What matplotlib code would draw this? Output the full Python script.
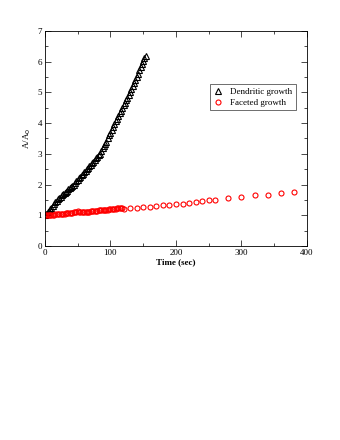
import matplotlib
matplotlib.use("Agg")
import matplotlib.pyplot as plt
from matplotlib.ticker import MultipleLocator

dend_t = [0, 2, 4, 6, 8, 10, 12, 14, 16, 18, 20, 22, 24, 26, 28, 30, 32, 34, 36, 38,
          40, 42, 44, 46, 48, 50, 52, 54, 56, 58, 60, 62, 64, 66, 68, 70, 72, 74, 76, 78,
          80, 82, 84, 86, 88, 90, 92, 94, 96, 98, 100, 102, 104, 106, 108, 110, 112, 114,
          116, 118, 120, 122, 124, 126, 128, 130, 132, 134, 136, 138, 140, 142, 144, 146,
          148, 150, 152, 154]
dend_y = [1.00, 1.05, 1.09, 1.14, 1.19, 1.24, 1.30, 1.36, 1.42, 1.48, 1.53, 1.57, 1.61,
          1.65, 1.68, 1.72, 1.76, 1.79, 1.84, 1.88, 1.92, 1.96, 2.00, 2.05, 2.10, 2.15,
          2.20, 2.25, 2.30, 2.35, 2.40, 2.45, 2.50, 2.55, 2.60, 2.65, 2.70, 2.75, 2.80,
          2.85, 2.90, 2.95, 3.00, 3.10, 3.18, 3.25, 3.32, 3.40, 3.52, 3.60, 3.68, 3.78,
          3.88, 3.98, 4.06, 4.14, 4.22, 4.32, 4.40, 4.50, 4.58, 4.66, 4.75, 4.83, 4.92,
          5.02, 5.12, 5.20, 5.30, 5.40, 5.50, 5.61, 5.72, 5.83, 5.94, 6.03, 6.12, 6.20]

facet_t = [0, 2, 4, 6, 8, 10, 12, 14, 16, 18, 20, 22, 24, 26, 28, 30, 32, 34, 36, 38,
           40, 42, 44, 46, 48, 50, 52, 54, 56, 58, 60, 62, 64, 66, 68, 70, 72, 74, 76, 78,
           80, 82, 84, 86, 88, 90, 92, 94, 96, 98, 100, 102, 104, 106, 108, 110, 112, 114,
           116, 118, 120, 130, 140, 150, 160, 170, 180, 190, 200, 210, 220, 230, 240, 250,
           260, 280, 300, 320, 340, 360, 380]
facet_y = [1.00, 1.00, 1.01, 1.01, 1.01, 1.02, 1.02, 1.02, 1.03, 1.03, 1.03, 1.04, 1.04,
           1.04, 1.05, 1.05, 1.06, 1.06, 1.07, 1.07, 1.08, 1.08, 1.09, 1.10, 1.12, 1.13,
           1.12, 1.10, 1.09, 1.10, 1.10, 1.11, 1.11, 1.12, 1.12, 1.13, 1.13, 1.14, 1.14,
           1.15, 1.15, 1.16, 1.16, 1.17, 1.17, 1.17, 1.18, 1.18, 1.18, 1.19, 1.19, 1.20,
           1.20, 1.21, 1.21, 1.22, 1.22, 1.23, 1.24, 1.24, 1.20, 1.22, 1.24, 1.26, 1.28,
           1.30, 1.32, 1.34, 1.36, 1.38, 1.41, 1.44, 1.47, 1.49, 1.51, 1.55, 1.60, 1.65,
           1.67, 1.72, 1.76]

labels = ["Dendritic growth", "Faceted growth"]

plt.rcParams['font.family'] = ['Liberation Serif', 'DejaVu Serif']

fig = plt.figure(figsize=(3.4, 4.4), dpi=100)
ax = fig.add_axes([0.132, 0.441, 0.771, 0.4885])

ax.plot(dend_t, dend_y, linestyle='none', marker='^', markersize=4.0,
        markerfacecolor='none', markeredgecolor='black', markeredgewidth=0.8,
        label=labels[0])
ax.plot(facet_t, facet_y, linestyle='none', marker='o', markersize=3.6,
        markerfacecolor='none', markeredgecolor='red', markeredgewidth=0.8,
        label=labels[1])

ax.set_xlim(0, 400)
ax.set_ylim(0, 7)
ax.xaxis.set_major_locator(MultipleLocator(100))
ax.xaxis.set_minor_locator(MultipleLocator(50))
ax.yaxis.set_major_locator(MultipleLocator(1))
ax.yaxis.set_minor_locator(MultipleLocator(0.5))
ax.tick_params(which='both', direction='in', top=True, right=True, labelsize=6.5,
               width=0.5, pad=2)
ax.tick_params(which='major', length=4)
ax.tick_params(which='minor', length=2)
for s in ax.spines.values():
    s.set_linewidth(0.6)

ax.set_xlabel("Time (sec)", fontsize=6.5, fontweight='bold', labelpad=1)
ax.set_ylabel("A/A$_0$", fontsize=6.5, labelpad=3)

leg = ax.legend(loc='upper right', bbox_to_anchor=(0.975, 0.775), fontsize=6.5,
                frameon=True, fancybox=False, edgecolor='black', handlelength=1.0,
                handletextpad=0.8, borderpad=0.4, labelspacing=0.3)
leg.get_frame().set_linewidth(0.5)

fig.savefig("out.png", dpi=100)
